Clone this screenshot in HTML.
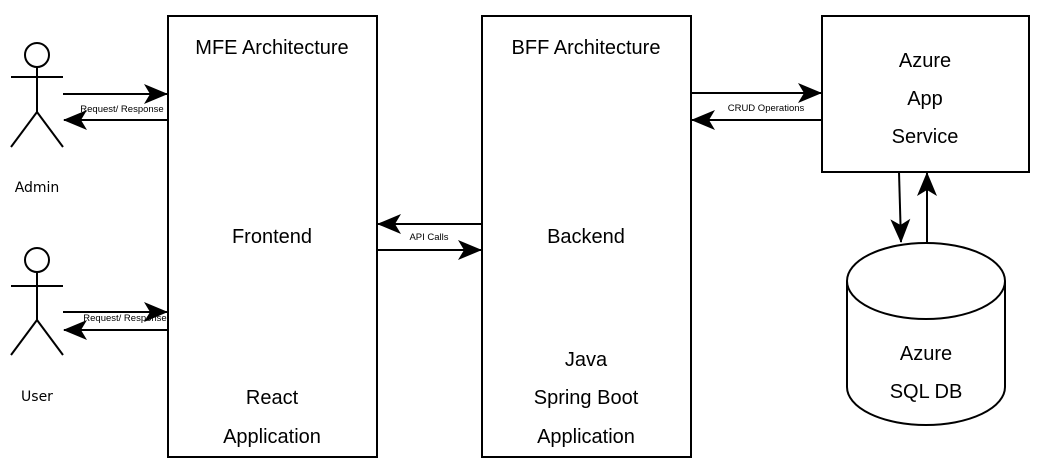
<!DOCTYPE html>
<html><head><meta charset="utf-8"><style>
html,body{margin:0;padding:0;background:#fff;}
svg{display:block;}
text{font-family:"Liberation Sans",Arial,sans-serif;fill:#000;}
.big{font-size:20px;text-anchor:middle;}
.sm{font-size:9.5px;text-anchor:middle;}
.dv{font-family:"DejaVu Sans",sans-serif;font-size:14px;text-anchor:middle;}
</style></head><body>
<svg width="1042" height="476" viewBox="0 0 1042 476" xmlns="http://www.w3.org/2000/svg">
<defs>
<marker id="a" viewBox="0 0 24 20" refX="23" refY="10" markerWidth="24" markerHeight="20" markerUnits="userSpaceOnUse" orient="auto">
<path d="M0,0 L24,10 L0,20 L6,10 Z" fill="#000"/>
</marker>
</defs>
<g fill="none" stroke="#000" stroke-width="2">
<rect x="168" y="16" width="209" height="441"/>
<rect x="482" y="16" width="209" height="441"/>
<rect x="822" y="16" width="207" height="156"/>
<path d="M847,281 L847,387 A79,38 0 0 0 1005,387 L1005,281"/>
<ellipse cx="926" cy="281" rx="79" ry="38" fill="#fff"/>
<circle cx="37" cy="55" r="12"/>
<line x1="11" y1="77" x2="63" y2="77"/>
<line x1="37" y1="67" x2="37" y2="112"/>
<line x1="37" y1="112" x2="11" y2="147"/>
<line x1="37" y1="112" x2="63" y2="147"/>
<circle cx="37" cy="260" r="12"/>
<line x1="11" y1="286" x2="63" y2="286"/>
<line x1="37" y1="272" x2="37" y2="320"/>
<line x1="37" y1="320" x2="11" y2="355"/>
<line x1="37" y1="320" x2="63" y2="355"/>
<line x1="63" y1="94" x2="167" y2="94" marker-end="url(#a)"/>
<line x1="168" y1="120" x2="64" y2="120" marker-end="url(#a)"/>
<line x1="63" y1="312" x2="167" y2="312" marker-end="url(#a)"/>
<line x1="168" y1="330" x2="64" y2="330" marker-end="url(#a)"/>
<line x1="482" y1="224" x2="378" y2="224" marker-end="url(#a)"/>
<line x1="377" y1="250" x2="481" y2="250" marker-end="url(#a)"/>
<line x1="691" y1="93" x2="821" y2="93" marker-end="url(#a)"/>
<line x1="822" y1="120" x2="692" y2="120" marker-end="url(#a)"/>
<line x1="899" y1="172" x2="901" y2="242" marker-end="url(#a)"/>
<line x1="927" y1="243" x2="927" y2="173" marker-end="url(#a)"/>
</g>
<text class="sm" x="122" y="112">Request/ Response</text>
<text class="sm" x="125" y="321">Request/ Response</text>
<text class="sm" x="429" y="240">API Calls</text>
<text class="sm" x="766" y="111">CRUD Operations</text>
<text class="dv" x="37" y="192">Admin</text>
<text class="dv" x="37" y="401">User</text>
<text class="big" x="272" y="54">MFE Architecture</text>
<text class="big" x="272" y="243">Frontend</text>
<text class="big" x="272" y="404">React</text>
<text class="big" x="272" y="443">Application</text>
<text class="big" x="586" y="54">BFF Architecture</text>
<text class="big" x="586" y="243">Backend</text>
<text class="big" x="586" y="366">Java</text>
<text class="big" x="586" y="404">Spring Boot</text>
<text class="big" x="586" y="443">Application</text>
<text class="big" x="925" y="67">Azure</text>
<text class="big" x="925" y="105">App</text>
<text class="big" x="925" y="143">Service</text>
<text class="big" x="926" y="360">Azure</text>
<text class="big" x="926" y="398">SQL DB</text>
</svg>
</body></html>
